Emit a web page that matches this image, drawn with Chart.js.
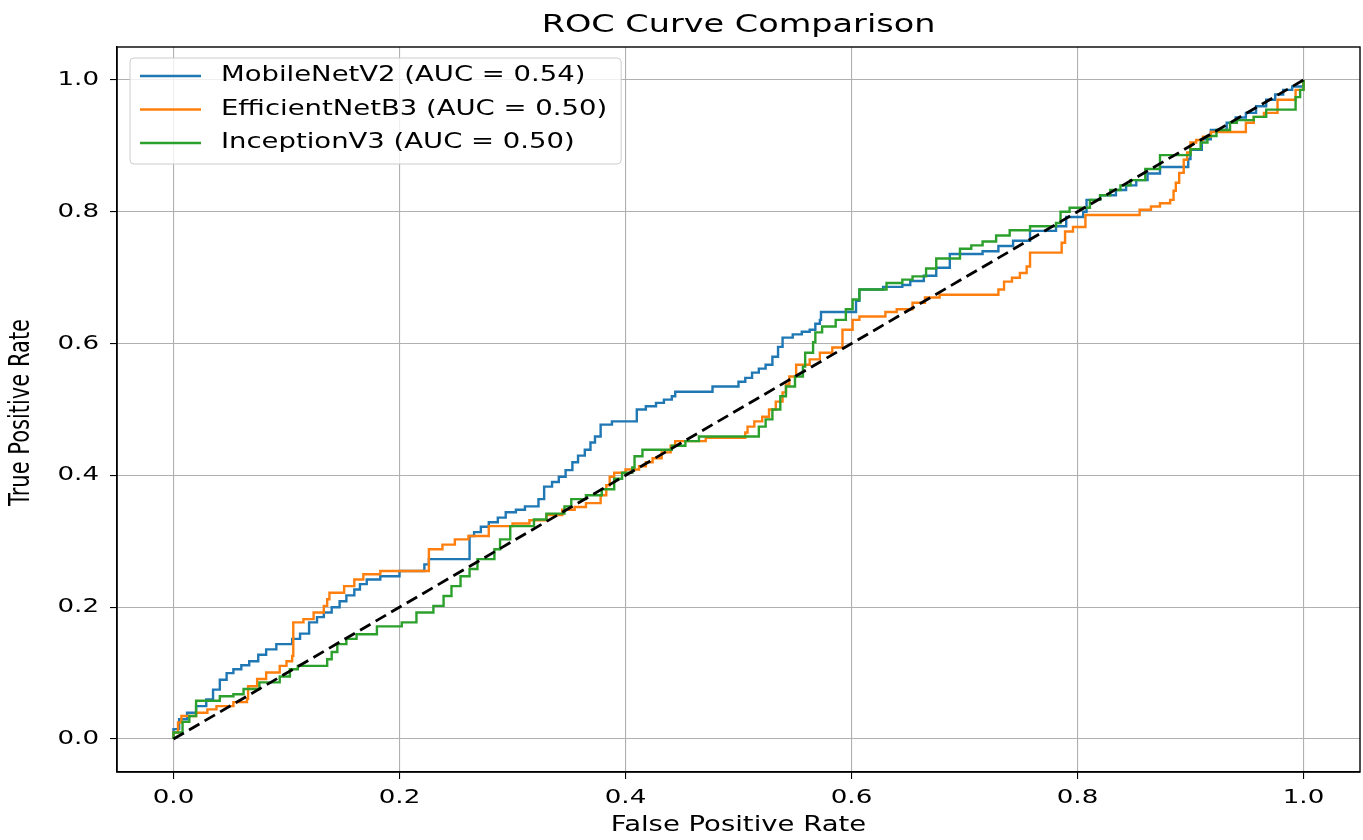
<!DOCTYPE html>
<html>
<head>
<meta charset="utf-8">
<title>ROC Curve Comparison</title>
<script src="https://cdn.jsdelivr.net/npm/chart.js@4.4.1/dist/chart.umd.min.js"></script>
<style>
  html, body { margin: 0; padding: 0; background: #fff; }
  #caja { width: 1363px; height: 840px; }
</style>
</head>
<body>
<div id="caja"><canvas id="grafica_roc" width="1363" height="840"></canvas></div>
<script>
'use strict'

//Datos de las curvas (fpr, tpr)
const mobileNetV2 = [[0,0],[0,0.015],[0.005,0.03],[0.012,0.04],[0.02,0.05],[0.029,0.06],[0.035,0.075],[0.041,0.09],[0.047,0.1],[0.053,0.106],[0.06,0.112],[0.067,0.118],[0.075,0.128],[0.082,0.136],[0.091,0.144],[0.105,0.152],[0.112,0.16],[0.12,0.177],[0.127,0.185],[0.133,0.192],[0.14,0.2],[0.147,0.209],[0.153,0.218],[0.16,0.227],[0.165,0.235],[0.171,0.242],[0.183,0.247],[0.2,0.255],[0.222,0.265],[0.226,0.273],[0.262,0.308],[0.266,0.314],[0.272,0.322],[0.279,0.329],[0.287,0.336],[0.294,0.344],[0.303,0.348],[0.311,0.353],[0.323,0.364],[0.328,0.383],[0.335,0.39],[0.341,0.398],[0.347,0.408],[0.353,0.42],[0.358,0.43],[0.364,0.439],[0.369,0.45],[0.373,0.459],[0.378,0.477],[0.388,0.482],[0.41,0.5],[0.418,0.505],[0.427,0.51],[0.434,0.515],[0.441,0.52],[0.444,0.527],[0.477,0.535],[0.5,0.542],[0.506,0.548],[0.512,0.556],[0.518,0.562],[0.524,0.568],[0.53,0.58],[0.535,0.595],[0.539,0.609],[0.548,0.614],[0.556,0.618],[0.563,0.621],[0.568,0.63],[0.572,0.636],[0.573,0.648],[0.604,0.665],[0.607,0.682],[0.628,0.686],[0.645,0.689],[0.652,0.695],[0.664,0.703],[0.675,0.715],[0.687,0.736],[0.716,0.74],[0.73,0.748],[0.743,0.756],[0.758,0.771],[0.781,0.778],[0.79,0.792],[0.805,0.8],[0.808,0.818],[0.82,0.825],[0.834,0.833],[0.843,0.84],[0.852,0.848],[0.862,0.858],[0.873,0.868],[0.898,0.88],[0.9,0.894],[0.91,0.91],[0.918,0.924],[0.932,0.935],[0.94,0.943],[0.949,0.95],[0.958,0.96],[0.967,0.97],[0.975,0.978],[0.982,0.985],[0.99,0.99],[1,1]];

const efficientNetB3 = [[0,0],[0,0.01],[0.004,0.025],[0.007,0.035],[0.02,0.04],[0.03,0.045],[0.038,0.05],[0.053,0.056],[0.065,0.061],[0.066,0.08],[0.074,0.091],[0.082,0.101],[0.094,0.111],[0.1,0.118],[0.105,0.126],[0.106,0.177],[0.115,0.182],[0.124,0.192],[0.133,0.202],[0.136,0.212],[0.138,0.222],[0.151,0.232],[0.16,0.242],[0.168,0.25],[0.183,0.255],[0.226,0.288],[0.238,0.295],[0.249,0.303],[0.261,0.308],[0.279,0.323],[0.3,0.327],[0.315,0.332],[0.33,0.34],[0.344,0.348],[0.355,0.352],[0.365,0.358],[0.378,0.37],[0.383,0.385],[0.386,0.398],[0.39,0.404],[0.4,0.409],[0.412,0.414],[0.418,0.42],[0.424,0.426],[0.432,0.435],[0.44,0.445],[0.444,0.452],[0.471,0.457],[0.506,0.465],[0.508,0.474],[0.514,0.482],[0.521,0.489],[0.527,0.5],[0.533,0.512],[0.539,0.526],[0.542,0.538],[0.545,0.55],[0.551,0.568],[0.563,0.576],[0.572,0.586],[0.583,0.594],[0.592,0.621],[0.601,0.636],[0.607,0.641],[0.63,0.648],[0.64,0.652],[0.654,0.662],[0.665,0.67],[0.678,0.674],[0.73,0.682],[0.735,0.694],[0.742,0.7],[0.749,0.707],[0.755,0.717],[0.758,0.738],[0.786,0.753],[0.789,0.77],[0.796,0.777],[0.807,0.795],[0.855,0.803],[0.865,0.808],[0.873,0.813],[0.882,0.818],[0.885,0.832],[0.887,0.844],[0.89,0.859],[0.894,0.879],[0.897,0.89],[0.9,0.905],[0.905,0.909],[0.911,0.914],[0.918,0.921],[0.949,0.935],[0.956,0.944],[0.965,0.95],[0.977,0.97],[0.993,0.985],[1,1]];

const inceptionV3 = [[0,0],[0,0.01],[0.008,0.026],[0.014,0.035],[0.02,0.058],[0.041,0.065],[0.053,0.068],[0.062,0.076],[0.076,0.086],[0.094,0.095],[0.103,0.106],[0.11,0.111],[0.136,0.121],[0.14,0.132],[0.145,0.144],[0.153,0.152],[0.162,0.159],[0.18,0.171],[0.202,0.177],[0.215,0.192],[0.23,0.202],[0.239,0.217],[0.246,0.232],[0.254,0.247],[0.262,0.258],[0.269,0.273],[0.284,0.288],[0.289,0.303],[0.298,0.323],[0.319,0.333],[0.33,0.342],[0.346,0.353],[0.352,0.364],[0.365,0.37],[0.379,0.379],[0.39,0.395],[0.397,0.404],[0.406,0.412],[0.408,0.429],[0.415,0.439],[0.441,0.445],[0.453,0.452],[0.465,0.459],[0.518,0.474],[0.524,0.485],[0.53,0.5],[0.537,0.52],[0.542,0.535],[0.55,0.55],[0.557,0.565],[0.559,0.586],[0.566,0.602],[0.568,0.617],[0.574,0.626],[0.586,0.636],[0.595,0.652],[0.601,0.667],[0.607,0.682],[0.631,0.692],[0.645,0.697],[0.654,0.702],[0.666,0.714],[0.675,0.729],[0.696,0.744],[0.706,0.749],[0.716,0.755],[0.728,0.764],[0.74,0.772],[0.758,0.778],[0.781,0.783],[0.785,0.8],[0.793,0.806],[0.811,0.818],[0.82,0.825],[0.829,0.833],[0.838,0.84],[0.847,0.848],[0.86,0.865],[0.873,0.886],[0.9,0.895],[0.909,0.905],[0.915,0.915],[0.923,0.924],[0.935,0.935],[0.941,0.939],[0.956,0.944],[0.967,0.955],[0.993,0.974],[0.997,0.985],[1,1]];

//Línea de referencia (azar)
const diagonal = [[0,0],[1,1]];

//Etiquetas y colores
const etiquetas = ['MobileNetV2 (AUC = 0.54)', 'EfficientNetB3 (AUC = 0.50)', 'InceptionV3 (AUC = 0.50)'];
const colores = ['#1f77b4', '#ff7f0e', '#2ca02c'];
const ticksX = [0, 0.2, 0.4, 0.6, 0.8, 1.0];
const ticksY = [0, 0.2, 0.4, 0.6, 0.8, 1.0];

const titulo = 'ROC Curve Comparison';
const tituloX = 'False Positive Rate';
const tituloY = 'True Positive Rate';

//La imagen original viene estirada a lo ancho, así que el texto se estira igual
const ESTIRAR = 1.34;
const FUENTE = '"DejaVu Sans", Verdana, sans-serif';

const ctx_roc = document.getElementById('grafica_roc').getContext('2d');

function aPuntos(pares) {
    return pares.map(p => ({ x: p[0], y: p[1] }));
}

function texto(ctx, str, x, y, size, align, rotar) {
    ctx.save();
    ctx.translate(x, y);
    ctx.scale(ESTIRAR, 1);
    if (rotar) ctx.rotate(-Math.PI / 2);
    ctx.font = `${size}px ${FUENTE}`;
    ctx.fillStyle = '#000';
    ctx.textAlign = align;
    ctx.textBaseline = 'middle';
    ctx.fillText(str, 0, 0);
    ctx.restore();
}

//Marco completo alrededor del área de la gráfica
const marco = {
    id: 'marco',
    afterDatasetsDraw(chart) {
        const a = chart.chartArea;
        const ctx = chart.ctx;
        ctx.save();
        ctx.strokeStyle = '#000';
        ctx.lineWidth = 1.4;
        ctx.strokeRect(a.left, a.top, a.right - a.left, a.bottom - a.top);
        ctx.restore();
    }
};

//Textos: título, ejes, etiquetas de ticks y leyenda
const textos = {
    id: 'textos',
    afterDraw(chart) {
        const ctx = chart.ctx;
        const a = chart.chartArea;
        const sx = chart.scales.x;
        const sy = chart.scales.y;
        const centroX = (a.left + a.right) / 2;
        const centroY = (a.top + a.bottom) / 2;

        texto(ctx, titulo, centroX, 25, 25, 'center', false);
        texto(ctx, tituloX, centroX, a.bottom + 54, 20.5, 'center', false);
        texto(ctx, tituloY, 22, centroY + 3, 21, 'center', true);

        ticksX.forEach(v => {
            texto(ctx, v.toFixed(1), sx.getPixelForValue(v), a.bottom + 26, 19.5, 'center', false);
        });
        ticksY.forEach(v => {
            texto(ctx, v.toFixed(1), a.left - 18, sy.getPixelForValue(v), 19.5, 'right', false);
        });

        //Leyenda
        const tamLeyenda = 20.5;
        ctx.save();
        ctx.font = `${tamLeyenda}px ${FUENTE}`;
        const anchoTexto = Math.max(...etiquetas.map(t => ctx.measureText(t).width)) * ESTIRAR;
        ctx.restore();
        const lx = a.left + 13;
        const ly = a.top + 11;
        const ancho = 91 + anchoTexto + 14;
        const alto = 106;
        ctx.save();
        ctx.beginPath();
        ctx.roundRect(lx, ly, ancho, alto, 4);
        ctx.fillStyle = 'rgba(255,255,255,0.8)';
        ctx.fill();
        ctx.strokeStyle = '#cccccc';
        ctx.lineWidth = 1;
        ctx.stroke();
        etiquetas.forEach((t, i) => {
            const fy = ly + 18 + i * 33.5;
            ctx.beginPath();
            ctx.moveTo(lx + 10, fy);
            ctx.lineTo(lx + 71, fy);
            ctx.strokeStyle = colores[i];
            ctx.lineWidth = 2.4;
            ctx.stroke();
            texto(ctx, t, lx + 91, fy, tamLeyenda, 'left', false);
        });
        ctx.restore();
    }
};

const curvas = [mobileNetV2, efficientNetB3, inceptionV3];

const datasets = [{
    label: 'Azar',
    data: aPuntos(diagonal),
    borderColor: '#000',
    borderWidth: 2.8,
    borderDash: [12, 6],
    order: 0
}];
curvas.forEach((c, i) => {
    datasets.push({
        label: etiquetas[i],
        data: aPuntos(c),
        borderColor: colores[i],
        borderWidth: 2.4,
        stepped: 'before',
        order: 3 - i
    });
});

const ejeComun = (ticks) => ({
    type: 'linear',
    min: -0.05,
    max: 1.05,
    afterBuildTicks: scale => { scale.ticks = ticks.map(v => ({ value: v })); },
    ticks: { display: false },
    grid: { color: '#b0b0b0', lineWidth: 1.1, tickColor: '#000', tickLength: 7, drawTicks: true },
    border: { display: true, color: '#000', width: 1.4 }
});

const ejeX = ejeComun(ticksX);
ejeX.afterFit = scale => { scale.height = 0; };
const ejeY = ejeComun(ticksY);
ejeY.afterFit = scale => { scale.width = 0; };

const graficaRoc = new Chart(ctx_roc, {
    type: 'line',
    data: { datasets: datasets },
    options: {
        responsive: false,
        animation: false,
        layout: { padding: { left: 117, top: 47, right: 3, bottom: 68 } },
        elements: { point: { radius: 0 }, line: { tension: 0, fill: false } },
        plugins: {
            legend: { display: false },
            tooltip: { enabled: false },
            title: { display: false }
        },
        scales: { x: ejeX, y: ejeY }
    },
    plugins: [marco, textos]
});
</script>
</body>
</html>
